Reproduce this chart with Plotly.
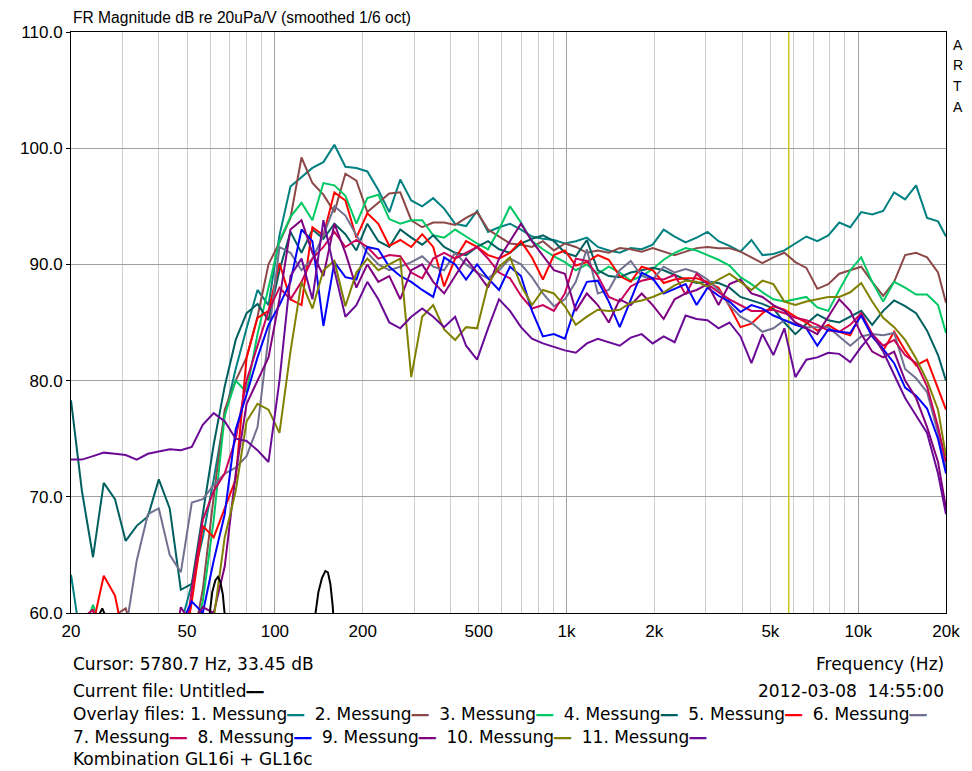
import math
import plotly.graph_objects as go

# ---------------- data ----------------
FREQ = [20.0, 21.8, 23.8, 25.9, 28.3, 30.8, 33.6, 36.7, 40.0, 43.6,
        47.6, 51.9, 56.6, 61.7, 67.3, 73.4, 80.0, 87.2, 95.1, 103.7,
        113.1, 123.4, 134.5, 146.7, 160.0, 174.5, 190.3, 207.5, 226.3, 246.8,
        269.1, 293.5, 320.0, 349.0, 380.5, 415.0, 452.5, 493.5, 538.2, 586.9,
        640.0, 697.9, 761.1, 830.0, 905.1, 987.1, 1076, 1174, 1280, 1396,
        1522, 1660, 1810, 1974, 2153, 2348, 2560, 2792, 3044, 3320,
        3620, 3948, 4305, 4695, 5120, 5584, 6089, 6640, 7241, 7897,
        8611, 9391, 10240, 11167, 12178, 13280, 14482, 15793, 17222, 18781,
        20000]

M1 = [63.3, 57, 55, 55, 55, 55, 55, 55, 55, 55,
      59, 62.5, 66.5, 71.5, 77, 81, 84.5, 87.8, 86.5, 92.5,
      96.7, 97.5, 98.3, 98.8, 100.3, 98.4, 98.3, 98.0, 96.4, 94.5,
      97.3, 95.5, 95.0, 95.7, 94.8, 93.5, 93.3, 94.6, 92.8, 93.2,
      93.5, 93.0, 92.4, 92.2, 92.1, 91.8, 92.0, 92.3, 91.5, 91.2,
      91.0, 91.4, 91.3, 91.7, 93.0, 92.4, 91.9, 92.3, 92.8, 92.0,
      91.6, 91.1, 92.1, 90.8, 90.9, 91.2, 91.8, 92.4, 92.0, 92.5,
      93.6, 93.2, 94.5, 94.3, 94.6, 96.2, 95.6, 96.8, 94.0, 93.7,
      92.4]
M2 = [55, 55, 55, 57, 59.8, 60.4, 57, 55, 55, 55,
      55, 57, 62, 70, 77.5, 80, 82, 85.5, 90, 91.9,
      94, 99.2, 97, 96, 94.5, 97.8, 97.2, 94.5, 95.3, 96.1,
      96.2, 93.8, 93.2, 93.6, 93.6, 93.4, 94.0, 94.5, 93.0, 92.4,
      91.8, 91.7, 91.5, 92.0, 91.2, 91.8, 91.5, 91.0, 91.2, 91.0,
      91.4, 91.3, 91.1, 91.4, 91.1, 90.8, 91.1, 91.4, 91.5, 91.4,
      91.4, 91.1, 90.6, 90.1, 90.6, 91.0, 90.2, 89.7, 87.9, 88.3,
      89.2, 89.5, 89.8, 88.5, 87.3, 88.5, 90.8, 91.0, 90.6, 89.3,
      86.7]
M3 = [55, 58, 60.7, 58, 55, 55, 55, 55, 55, 55,
      55, 57, 61, 68, 77, 80, 79, 84, 88, 92,
      94.1, 95.3, 93.8, 97.0, 96.8, 95.9, 93.5, 95.7, 96.0, 93.9,
      93.5, 93.8, 93.8, 92.5, 92.3, 93.0, 92.4, 91.8, 91.3, 93.0,
      95.0, 93.6, 92.0, 91.3, 90.7, 90.2, 89.5, 90.0, 89.2, 89.8,
      89.3, 88.6, 89.0, 89.6, 90.4, 91.0, 91.4, 91.2, 90.8, 90.4,
      89.9, 88.9, 88.3, 87.6, 87.0, 86.8, 87.0, 87.2, 86.3, 86.0,
      87.8, 89.5, 90.6, 88.5, 86.8, 88.5, 88.0, 87.4, 87.4, 86.5,
      84.1]
M4 = [78.3, 70.5, 64.8, 71.2, 69.8, 66.2, 67.5, 68.3, 71.5, 69.0,
      62.0, 62.5, 68.5, 74.5, 79.5, 83.5, 85.8, 86.6, 85.2, 89.5,
      92.8, 91.0, 93.0, 92.2, 93.5, 92.6, 91.2, 93.5, 92.0, 91.5,
      93.0, 92.3, 91.7, 92.5, 91.5, 91.0, 90.8, 91.5, 92.0, 91.3,
      91.0, 91.8, 92.2, 92.5, 92.0, 91.0, 90.7, 92.1, 89.5, 89.0,
      88.9, 89.3, 89.5, 89.7, 89.5, 89.1, 88.7, 88.4, 88.5, 88.4,
      88.0, 87.2, 86.9, 86.6, 86.2, 85.0, 84.0, 84.9, 85.7, 85.2,
      85.0, 85.5, 86.0, 84.8, 86.0, 86.9, 86.4, 85.8, 84.3, 82.2,
      80.0]
M5 = [55, 55, 59, 63.2, 61.5, 57, 55, 55, 55, 55,
      55, 61, 67.5, 66.5, 69, 71.5, 82, 85.4, 86, 90.1,
      87, 86.5, 93.2, 92.5, 96.2, 95.5, 92.3, 94.4, 93.5, 91.6,
      92.1, 91.5, 92.6, 91.5, 88.1, 90.5, 92.0, 91.5, 90.8, 90.5,
      91.0, 92.0, 90.6, 88.7, 90.8, 91.2, 89.9, 90.2, 90.8, 90.4,
      89.0, 88.5, 89.8, 89.5, 88.4, 88.7, 88.8, 88.8, 88.5, 88.0,
      86.4, 84.6, 84.9, 85.8, 86.4, 86.1, 85.5, 85.0, 84.3, 84.8,
      84.2, 83.9, 85.8, 84.0, 82.6, 84.2, 82.6, 81.3, 81.8, 79.3,
      77.5]
M6 = [55, 55, 55, 55, 55, 58.5, 64.5, 68.5, 69.0, 65.0,
      63.5, 69.5, 69.8, 71.0, 72.0, 72.5, 73.5, 76.0, 84.0, 91.5,
      91.0, 89.5, 90.5, 92.5, 95.0, 94.2, 92.5, 91.0, 90.0, 89.5,
      89.8, 90.2, 90.7, 89.8, 89.5, 91.0, 90.0, 89.3, 88.8, 89.5,
      90.5, 90.0, 88.9, 87.5, 86.4, 87.0, 88.5, 91.3, 87.5, 87.8,
      89.5, 90.3, 89.0, 88.7, 89.8, 89.3, 89.6, 89.3, 88.7, 87.8,
      86.5, 85.5, 85.0, 84.2, 84.5, 85.2, 84.9, 84.6, 84.6, 84.6,
      83.8, 83.0, 83.8, 84.0, 83.9, 84.1, 81.0, 80.2, 79.0, 75.5,
      72.5]
M7 = [55, 59.5, 60.3, 55, 55, 55, 55, 55, 55, 55,
      55, 62, 68, 70.5, 72, 75, 80, 83, 86, 88,
      87, 88.5, 90.5, 91.5, 92.8, 91.5, 92.1, 91.5, 90.5, 90.8,
      90.7, 89.3, 88.8, 90.5, 91.0, 90.5, 91.0, 91.5, 90.5, 89.3,
      88.8, 87.3, 86.2, 86.5, 86.0, 87.5, 90.5, 90.3, 89.0, 87.2,
      86.8, 88.1, 88.6, 88.8, 88.7, 89.1, 87.4, 89.2, 88.3, 87.6,
      87.0, 86.5, 86.0, 86.0, 86.1, 85.8, 85.4, 85.2, 84.8, 84.3,
      84.2, 84.8, 85.8, 84.0, 83.0, 83.5, 82.2, 81.5, 79.5, 76.0,
      73.0]
M8 = [55, 55, 55, 55, 55, 55, 55, 55, 55, 55,
      59, 61, 60, 64.5, 68.5, 75.8, 78.8, 82, 84.8, 86.5,
      88.5, 93.0, 92.0, 84.7, 90.2, 88.9, 88.7, 91.5, 91.3, 89.8,
      89.0, 88.5, 87.8, 87.2, 90.6, 90.0, 88.7, 90.0, 88.8, 87.8,
      89.8, 89.0, 86.0, 83.8, 84.0, 83.6, 86.5, 88.5, 88.6, 86.8,
      84.6, 87.0, 89.3, 88.8, 87.5, 87.9, 88.3, 86.5, 88.0, 87.3,
      86.8, 85.9, 86.5, 86.2, 85.6, 85.2, 84.8, 84.5, 83.0, 84.4,
      84.2, 84.1, 85.6, 83.8, 82.7, 81.5, 79.4, 78.7, 77.6, 75.0,
      72.0]
M9 = [55, 55, 55, 55, 55, 55, 55, 55, 55, 55,
      60.5, 59, 60.5, 60, 64, 72, 78, 80, 82, 87,
      93.0, 93.8, 91.0, 89.0, 93.5, 91.0, 88.0, 90.0, 88.5, 89.0,
      87.0, 89.5, 90.0, 88.5, 87.5, 89.0, 90.5, 89.3, 88.0, 90.5,
      92.0, 93.5, 92.0, 90.8, 89.5, 89.2, 86.0, 87.5, 86.5, 85.0,
      87.0, 86.5, 87.5, 86.5, 85.3, 87.0, 87.5, 87.8, 88.3, 86.5,
      88.3, 88.7, 87.5, 87.2, 86.5, 86.0, 85.0, 84.5, 84.0, 85.5,
      87.0, 86.0, 84.0, 82.5, 82.0, 82.5, 80.0, 78.5, 76.0, 73.0,
      69.0]
M10 = [55, 55, 55, 55, 55, 55, 55, 55, 55, 55,
       55, 55, 55, 59.5, 66.5, 70.5, 76.5, 78.0, 77.5, 75.5,
       82.5, 88.5, 86.2, 89.5, 90.3, 86.4, 89.3, 90.5, 89.5, 90.0,
       90.5, 80.3, 85.5, 86.5, 84.4, 83.5, 84.6, 84.5, 88.3, 89.8,
       90.6, 88.2, 86.5, 87.8, 87.5, 86.4, 84.8, 85.5, 86.1, 86.0,
       86.1, 86.7, 86.9, 87.2, 87.6, 88.2, 88.6, 88.5, 88.1, 88.7,
       89.2, 88.5, 87.8, 88.6, 88.3, 86.8, 86.5, 86.8, 87.0, 87.2,
       87.2, 87.6, 88.4, 86.8, 85.4, 84.6, 83.5, 81.9, 80.0, 77.5,
       73.5]
M11 = [73.2, 73.2, 73.5, 73.8, 73.7, 73.6, 73.2, 73.7, 73.9, 74.1,
       74.0, 74.3, 76.2, 77.2, 76.5, 75.0, 74.8, 74.0, 73.0, 80.0,
       89.0, 90.5, 87.0, 93.8, 89.5, 85.5, 86.5, 88.5, 87.0, 85.0,
       84.5, 85.5, 86.2, 85.5, 84.6, 85.5, 83.0, 81.8, 84.5, 87.0,
       86.0, 84.6, 83.6, 83.2, 82.9, 82.6, 82.4, 83.2, 83.6, 83.3,
       83.0, 83.7, 84.0, 83.2, 83.8, 83.3, 85.6, 85.3, 85.2, 84.5,
       85.0, 83.8, 81.5, 84.0, 82.2, 84.5, 80.3, 81.8, 82.0, 82.4,
       82.3, 81.6, 82.9, 84.0, 82.5, 80.5, 78.5, 77.0, 75.5, 72.0,
       68.5]

# current file (black)
CUR_FREQ = [20, 25.0, 25.6, 26.2, 59.5, 61.0, 62.5, 63.8, 65.0, 66.3, 67.5,
            137, 141, 145, 149, 152, 155, 158, 160, 20000]
CUR_DB = [55, 59.8, 60.4, 59.8, 59.5, 61.8, 62.8, 63.1, 62.7, 61.6, 59.5,
          59.5, 61.8, 63.0, 63.6, 63.5, 62.5, 60.5, 58, 55]

SERIES = [M1, M2, M3, M4, M5, M6, M7, M8, M9, M10, M11]
NAMES = ["1. Messung", "2. Messung", "3. Messung", "4. Messung", "5. Messung",
         "6. Messung", "7. Messung", "8. Messung", "9. Messung", "10. Messung",
         "11. Messung"]
COLORS = ["#008080", "#8C4848", "#00C864", "#006060", "#FF0000",
          "#707090", "#C8005A", "#0000FF", "#800080", "#808000", "#6A0A96"]

CURSOR_HZ = 5780.7
Y_RANGE = [60, 110]
X_RANGE = [20, 20000]
XTICKS = [20, 50, 100, 200, 500, 1000, 2000, 5000, 10000, 20000]
XTICKTEXT = ["20", "50", "100", "200", "500", "1k", "2k", "5k", "10k", "20k"]
XMAJOR = [100, 1000, 10000]
XMINOR = [30, 40, 50, 60, 70, 80, 90,
          200, 300, 400, 500, 600, 700, 800, 900,
          2000, 3000, 4000, 5000, 6000, 7000, 8000, 9000]
YTICKS = [60, 70, 80, 90, 100, 110]
YTICKTEXT = ["60.0", "70.0", "80.0", "90.0", "100.0", "110.0"]

# ---------------- figure ----------------
# the page body adds an 8 px margin at top/left
fig = go.Figure()
fig.add_trace(go.Scatter(x=[CURSOR_HZ, CURSOR_HZ], y=Y_RANGE, mode="lines",
                         line=dict(color="#C8C81E", width=1.5), hoverinfo="skip"))
for vals, name, col in zip(SERIES, NAMES, COLORS):
    fig.add_trace(go.Scatter(x=FREQ, y=vals, mode="lines", name=name,
                             line=dict(color=col, width=2)))
fig.add_trace(go.Scatter(x=CUR_FREQ, y=CUR_DB, mode="lines", name="Untitled",
                         line=dict(color="black", width=2)))
# carrier trace for the labelled overlay axis
fig.add_trace(go.Scatter(x=FREQ, y=[None] * len(FREQ), xaxis="x2", yaxis="y",
                         mode="lines", showlegend=False, hoverinfo="skip"))

xr = [math.log10(X_RANGE[0]), math.log10(X_RANGE[1])]
tick_font = dict(family="Liberation Sans, Arial, sans-serif", size=17, color="black")
txt_font = dict(family="DejaVu Sans, sans-serif", size=17, color="black")

fig.update_layout(
    width=964, height=763,
    margin=dict(l=54, r=22, t=24, b=158),
    paper_bgcolor="white", plot_bgcolor="white",
    showlegend=False,
    xaxis=dict(type="log", range=xr, tickvals=XMAJOR, showticklabels=False,
               showgrid=True, gridcolor="#A0A0A0", gridwidth=1, ticks="",
               minor=dict(tickvals=XMINOR, showgrid=True, gridcolor="#CDCDCD",
                          gridwidth=1, ticks=""),
               showline=True, mirror=True, linecolor="black", linewidth=1,
               zeroline=False),
    xaxis2=dict(type="log", range=xr, overlaying="x", anchor="y", side="bottom",
                tickvals=XTICKS, ticktext=XTICKTEXT, showgrid=False,
                showline=False, ticks="", zeroline=False, tickfont=tick_font,
                ticklabelstandoff=6, ticklabeloverflow="allow"),
    yaxis=dict(range=Y_RANGE, tickvals=YTICKS, ticktext=YTICKTEXT,
               ticks="outside", ticklen=4, tickcolor="black",
               showgrid=True, gridcolor="#A0A0A0", gridwidth=1,
               showline=True, mirror=True, linecolor="black", linewidth=1,
               zeroline=False, tickfont=tick_font),
)

def py(pix):
    # absolute window pixel -> paper fraction (plot area spans 32..613)
    return (613 - pix) / 581.0

def sw(color):
    return ("<span style='color:%s;font-size:14px'>\u2501\u2501</span>" % color)

ann = []
ann.append(dict(text="FR Magnitude dB re 20uPa/V (smoothed 1/6 oct)",
                x=0, y=py(17), xref="paper", yref="paper", xanchor="left",
                yanchor="middle", showarrow=False,
                font=dict(family="Liberation Sans, Arial, sans-serif", size=15.6,
                          color="black")))
for ch, pix in zip("ARTA", [45, 65, 86, 107]):
    ann.append(dict(text=ch, x=(962 - 62) / 888.0, y=py(pix), xref="paper",
                    yref="paper", xanchor="center", yanchor="middle",
                    showarrow=False,
                    font=dict(family="Liberation Sans, Arial, sans-serif",
                              size=14, color="black")))
ann.append(dict(text="Cursor: %.1f Hz, 33.45 dB" % CURSOR_HZ, x=0, y=py(664),
                xref="paper", yref="paper", xanchor="left", yanchor="middle",
                showarrow=False, font=txt_font))
ann.append(dict(text="Frequency (Hz)", x=1, y=py(664), xref="paper", yref="paper",
                xanchor="right", yanchor="middle", showarrow=False, font=txt_font))
ann.append(dict(text="Current file: Untitled" + sw("black"), x=0, y=py(691),
                xref="paper", yref="paper", xanchor="left", yanchor="middle",
                showarrow=False, font=txt_font))
ann.append(dict(text="2012-03-08\u00a0\u00a014:55:00", x=1, y=py(691),
                xref="paper", yref="paper", xanchor="right", yanchor="middle",
                showarrow=False, font=txt_font))
line1 = "Overlay files: " + "\u00a0\u00a0".join(
    n + sw(c) for n, c in zip(NAMES[:6], COLORS[:6]))
line2 = "\u00a0\u00a0".join(n + sw(c) for n, c in zip(NAMES[6:], COLORS[6:]))
ann.append(dict(text=line1, x=0, y=py(714), xref="paper", yref="paper",
                xanchor="left", yanchor="middle", showarrow=False, font=txt_font))
ann.append(dict(text=line2, x=0, y=py(737), xref="paper", yref="paper",
                xanchor="left", yanchor="middle", showarrow=False, font=txt_font))
ann.append(dict(text="Kombination GL16i + GL16c", x=0, y=py(759), xref="paper",
                yref="paper", xanchor="left", yanchor="middle", showarrow=False,
                font=txt_font))
fig.update_layout(annotations=ann)

fig.write_html("out.html")
